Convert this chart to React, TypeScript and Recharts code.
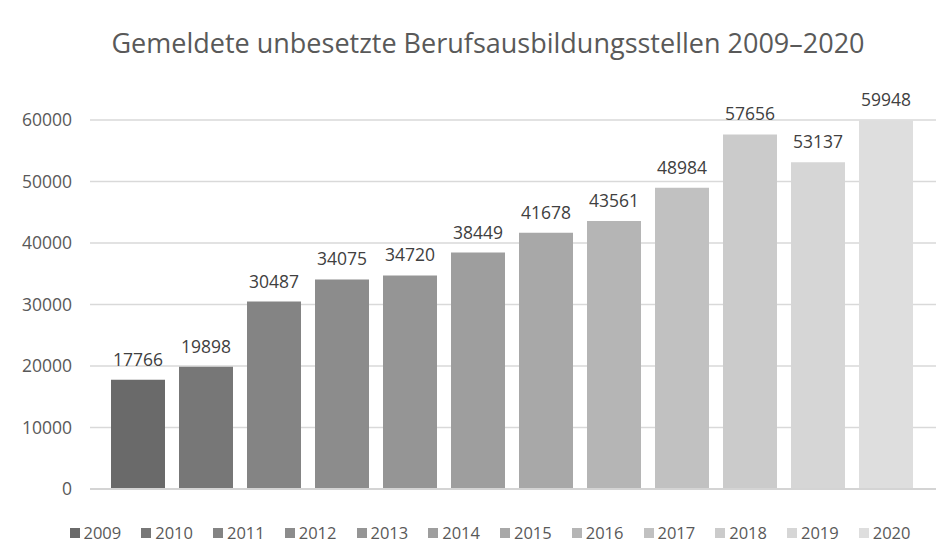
import { Bar, BarChart, CartesianGrid, LabelList, Legend, ReferenceLine, XAxis, YAxis } from "recharts";

const years = ["2009", "2010", "2011", "2012", "2013", "2014", "2015", "2016", "2017", "2018", "2019", "2020"];
const values = [17766, 19898, 30487, 34075, 34720, 38449, 41678, 43561, 48984, 57656, 53137, 59948];
const barColors = ["#6a6a6a", "#777777", "#848484", "#8c8c8c", "#959595", "#9e9e9e", "#a8a8a8", "#b5b5b5", "#c1c1c1", "#cbcbcb", "#d6d6d6", "#dedede"];
const yTicks = [0, 10000, 20000, 30000, 40000, 50000, 60000];
const title = "Gemeldete unbesetzte Berufsausbildungsstellen 2009–2020";

const row: Record<string, number | string> = { name: "Stellen" };
years.forEach((year, i) => { row[year] = values[i]; });

const font = "'Open Sans', sans-serif";

function LegendRow({ payload }: { payload?: { value: string; color: string }[] }) {
  return <div style={{ height: 69, boxSizing: "border-box", paddingTop: 19, paddingLeft: 56, display: "flex", justifyContent: "center", fontFamily: font, fontSize: 16.5, lineHeight: "20px", color: "#595959" }}>
    {(payload ?? []).map((item) => <span key={item.value} style={{ display: "inline-flex", alignItems: "center", marginRight: 20 }}>
      <span style={{ width: 10, height: 10, background: item.color, marginRight: 4 }} />
      {item.value}
    </span>)}
  </div>;
}

export default function App() {
  return <div style={{ position: "relative", width: 944, height: 550, margin: "-2px 0 0 -2px", borderTop: "2px solid #dadada", borderLeft: "2px solid #dadada", background: "#fff", overflow: "hidden" }}>
    <div style={{ position: "absolute", top: 17, left: 0, width: 960, textAlign: "center", fontFamily: font, fontSize: 27, lineHeight: "36px", color: "#595959" }}>{title}</div>
    <BarChart width={944} height={550} data={[row]} margin={{ top: 112, right: 16, bottom: 0, left: 0 }} barCategoryGap={21} barGap={14}>
      <CartesianGrid vertical={false} stroke="#d9d9d9" strokeWidth={1.5} />
      <XAxis dataKey="name" hide />
      <YAxis domain={[0, 60000]} ticks={yTicks} width={82} axisLine={false} tickLine={false} tickMargin={12} tick={{ fill: "#595959", fontSize: 17.5, fontFamily: font }} />
      <ReferenceLine y={0} stroke="#d4d4d4" strokeWidth={2} />
      <Legend verticalAlign="bottom" content={(props) => <LegendRow payload={props.payload as { value: string; color: string }[]} />} />
      {years.map((year, i) => <Bar key={year} dataKey={year} name={year} fill={barColors[i]} isAnimationActive={false}>
        <LabelList dataKey={year} position="top" offset={14} fill="#404040" fontSize={17.5} fontFamily={font} />
      </Bar>)}
    </BarChart>
  </div>;
}
